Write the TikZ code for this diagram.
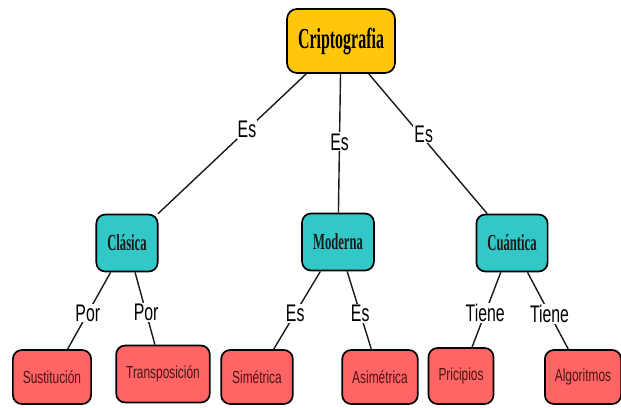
\documentclass[tikz,border=0pt]{standalone}
\usepackage{fontspec}
\usepackage{tikz}
\usetikzlibrary{positioning}
\newfontfamily\boxfont{Liberation Serif}[FakeStretch=0.55]
\newfontfamily\labfont{Liberation Sans}[FakeStretch=0.66]
\newfontfamily\leaffont{Liberation Sans}[FakeStretch=0.68]
\definecolor{gold}{HTML}{FFC60B}
\definecolor{teal}{HTML}{33C8C8}
\definecolor{salmon}{HTML}{FF6565}
\definecolor{maroon}{HTML}{4A1414}

\begin{document}
\begin{tikzpicture}[x=1pt,y=-1pt,
 root/.style={draw=black,line width=1.7pt,rounded corners=10pt,fill=gold,inner xsep=11pt,minimum height=64pt,font=\boxfont\bfseries\fontsize{29}{29}\selectfont},
 kind/.style={draw=black,line width=1.7pt,rounded corners=9pt,fill=teal,inner xsep=11pt,minimum height=57pt,text=black!90,font=\boxfont\bfseries\fontsize{23}{23}\selectfont},
 leaf/.style={draw=black,line width=1.7pt,rounded corners=9pt,fill=salmon,inner xsep=9pt,minimum height=54pt,text=maroon,font=\leaffont\fontsize{17.5}{17.5}\selectfont},
 lab/.style={fill=white,inner sep=1pt,font=\labfont\fontsize{24}{24}\selectfont},
 link/.style={line width=1.4pt,draw=black!90}]
\useasboundingbox (0,0) rectangle (621,407);
\node[root] (crip) at (341,41) {Criptografia};
\node[kind] (clasica) at (127,243) {Clásica};
\node[kind] (moderna) at (338,242) {Moderna};
\node[kind] (cuantica) at (512,243) {Cuántica};
\node[leaf,inner xsep=10pt] (sust) at (52,377) {Sustitución};
\node[leaf,inner xsep=10pt,minimum height=57pt] (trans) at (163,374) {Transposición};
\node[leaf,inner xsep=11pt] (sim) at (257,377) {Simétrica};
\node[leaf,inner xsep=10pt] (asim) at (380,377) {Asimétrica};
\node[leaf,inner xsep=10pt,minimum height=56pt] (princ) at (461,376) {Pricipios};
\node[leaf,inner xsep=10pt] (algo) at (583,377) {Algoritmos};
\draw[link] (crip) -- node[lab,pos=0.40] {Es} (clasica);
\draw[link] (crip) -- node[lab,pos=0.49] {Es} (moderna);
\draw[link] (crip) -- node[lab,pos=0.43,xshift=4pt] {Es} (cuantica);
\draw[link] (clasica) -- node[lab,pos=0.53] {Por} (sust);
\draw[link] (clasica) -- node[lab,pos=0.56] {Por} (trans);
\draw[link] (moderna) -- node[lab,pos=0.54] {Es} (sim);
\draw[link] (moderna) -- node[lab,pos=0.54] {Es} (asim);
\draw[link] (cuantica) -- node[lab,pos=0.54] {Tiene} (princ);
\draw[link] (cuantica) -- node[lab,pos=0.54] {Tiene} (algo);
\end{tikzpicture}
\end{document}
